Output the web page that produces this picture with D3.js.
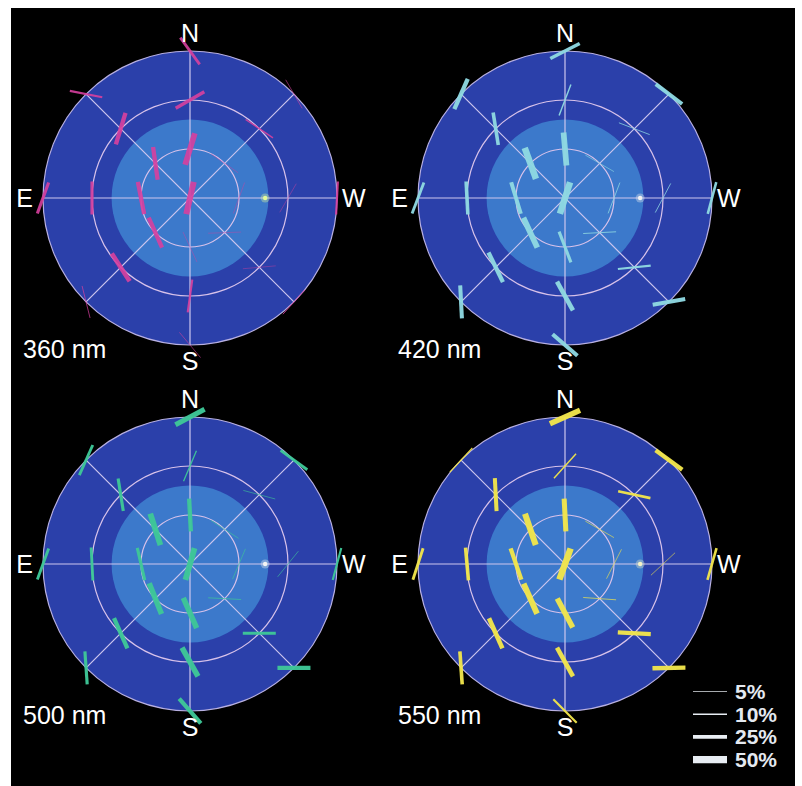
<!DOCTYPE html>
<html>
<head>
<meta charset="utf-8">
<script src="https://cdn.jsdelivr.net/npm/d3@7"></script>
<style>
  html, body { margin: 0; padding: 0; background: #ffffff; }
  svg { display: block; }
</style>
</head>
<body>
<svg id="chart" width="802" height="786"></svg>
<script>
// Sky polarization maps at four wavelengths.
// Each bar sits at a sky sample point (zenith, then rings at 60°, 30° and 0°
// elevation, eight azimuths each). Bar orientation = e-vector direction on the
// map (degrees clockwise from map-vertical), bar thickness = degree of polarization.

const wavelengths = ["360 nm", "420 nm", "500 nm", "550 nm"];
const barColors = ["#d8409f", "#8fd9e2", "#3fc898", "#f2e64c"];
const sunColors = ["#e4fb9a", "#f2f2f2", "#f4f4f4", "#f4f2c8"];

const compassLabels = ["N", "E", "S", "W"];
const azimuths = [0, 45, 90, 135, 180, 225, 270, 315];   // N, NE, E, SE, S, SW, W, NW
const ringElevations = [60, 30, 0];
const gridElevations = [60, 30];
const brightDiskElevation = 42;
const sunAzimuth = 270;
const sunElevation = 44;

const legendLevels = [5, 10, 25, 50];

// order: zenith | 60°: N NE E SE S SW W NW | 30°: same | 0°: same
const tilt360   = [13, 17, -8, -11, -24, -25, 88, 20, -55,   60, 17, 0, -33, 8, 85, 30, -56,   -36, -79, 20, -14, -40, 42, 3, -30];
const degree360 = [42, 40, 30, 30, 30, 3, 3, 3, 3,           24, 30, 22, 32, 15, 3, 3, 10,     20, 15, 22, 5, 4, 6, 15, 4];

const tilt420   = [18, -5, -20, -17, -25, -21, 87, 21, -60,  21, -9, -3, -26, -29, 84, 28, -69, 63, 24, 21, -3, -49, 80, 15, -53];
const degree420 = [45, 40, 45, 28, 40, 22, 6, 5, 4,          10, 25, 25, 30, 32, 15, 5, 5,     25, 30, 20, 28, 28, 28, 18, 28];

const tilt500   = [16, -3, -18, -13, -22, -24, -87, 23, -57, 23, -9, -3, -24, -29, 90, 39, -75, 62, 24, 20, -4, -41, 90, 15, -54];
const degree500 = [40, 30, 40, 22, 38, 38, 5, 4, 4,          9, 22, 20, 30, 38, 20, 4, 4,      35, 20, 20, 22, 30, 30, 15, 20];

const tilt550   = [20, -3, -19, -19, -24, -28, -86, 27, -60, 42, -3, -5, -24, -29, -87, 47, -78, 66, 43, 18, -4, -45, 89, 16, -54];
const degree550 = [45, 35, 42, 30, 40, 38, 5, 4, 4,          10, 28, 25, 32, 32, 30, 4, 18,    38, 8, 20, 25, 15, 30, 18, 30];

const tilts = [tilt360, tilt420, tilt500, tilt550];
const degrees = [degree360, degree420, degree500, degree550];

// ---- layout ----
const R = 147;
const barLength = 33;
const panelCenters = [[190, 198], [565, 198], [190, 564], [565, 564]];

const svg = d3.select("#chart");
const font = "'Liberation Sans', Arial, Helvetica, sans-serif";

svg.append("rect")
  .attr("x", 11).attr("y", 8)
  .attr("width", 784).attr("height", 778)
  .attr("fill", "#000000");

const rScale = d3.scaleLinear().domain([90, 0]).range([0, R]);
const widthScale = d3.scaleLinear().domain([0, 50]).range([0, 7.2]);

function project(az, el) {
  const r = rScale(el), a = az * Math.PI / 180;
  return [-Math.sin(a) * r, -Math.cos(a) * r];
}

const samplePoints = [{ az: 0, el: 90 }].concat(
  ringElevations.flatMap(el => azimuths.map(az => ({ az, el })))
);

wavelengths.forEach((label, i) => {
  const [cx, cy] = panelCenters[i];
  const g = svg.append("g").attr("transform", `translate(${cx},${cy})`);

  g.append("circle").attr("r", rScale(0))
    .attr("fill", "#2b40aa")
    .attr("stroke", "#b8b0e2").attr("stroke-width", 1.2);

  g.append("circle").attr("r", rScale(brightDiskElevation))
    .attr("fill", "#3c79cb");

  g.selectAll("circle.ring").data(gridElevations).join("circle")
    .attr("class", "ring")
    .attr("r", d => rScale(d))
    .attr("fill", "none")
    .attr("stroke", "#d8c2ea").attr("stroke-width", 1.2);

  g.selectAll("line.spoke").data([0, 45, 90, 135]).join("line")
    .attr("class", "spoke")
    .attr("x1", d => project(d, 0)[0]).attr("y1", d => project(d, 0)[1])
    .attr("x2", d => project(d + 180, 0)[0]).attr("y2", d => project(d + 180, 0)[1])
    .attr("stroke", "#cdc6ee").attr("stroke-width", 1.2);

  const [sx, sy] = project(sunAzimuth, sunElevation);
  g.append("circle").attr("cx", sx).attr("cy", sy).attr("r", 4.5)
    .attr("fill", sunColors[i]).attr("opacity", 0.35);
  g.append("circle").attr("cx", sx).attr("cy", sy).attr("r", 2.2)
    .attr("fill", sunColors[i]);

  const bars = samplePoints.map((p, k) => ({
    pos: project(p.az, p.el), tilt: tilts[i][k], degree: degrees[i][k]
  }));

  g.selectAll("line.bar").data(bars).join("line")
    .attr("class", "bar")
    .attr("transform", d => `translate(${d.pos[0]},${d.pos[1]}) rotate(${d.tilt})`)
    .attr("x1", 0).attr("y1", -barLength / 2)
    .attr("x2", 0).attr("y2", barLength / 2)
    .attr("stroke", barColors[i])
    .attr("stroke-width", d => widthScale(d.degree))
    .attr("opacity", i === 0 ? 0.9 : 0.96);

  const labelPos = { N: [0, -156, "middle"], S: [0, 172, "middle"], E: [-157, 9, "end"], W: [152, 9, "start"] };
  compassLabels.forEach(c => {
    const [lx, ly, anchor] = labelPos[c];
    g.append("text").attr("x", lx).attr("y", ly)
      .attr("text-anchor", anchor)
      .attr("font-family", font).attr("font-size", 25)
      .attr("fill", "#ffffff").text(c);
  });

  g.append("text").attr("x", -167).attr("y", 160)
    .attr("font-family", font).attr("font-size", 25)
    .attr("fill", "#ffffff").text(label);
});

// ---- legend: bar thickness vs degree of polarization ----
const legend = svg.append("g").attr("transform", "translate(693,699)");
legend.selectAll("line").data(legendLevels).join("line")
  .attr("x1", 0).attr("x2", 34)
  .attr("y1", (d, k) => k * 22.7 - 7.5).attr("y2", (d, k) => k * 22.7 - 7.5)
  .attr("stroke", "#e8edf3")
  .attr("stroke-width", d => widthScale(d));
legend.selectAll("text").data(legendLevels).join("text")
  .attr("x", 42).attr("y", (d, k) => k * 22.7)
  .attr("font-family", font).attr("font-size", 21).attr("font-weight", "bold")
  .attr("fill", "#e4e9f0")
  .text(d => d + "%");
</script>
</body>
</html>
